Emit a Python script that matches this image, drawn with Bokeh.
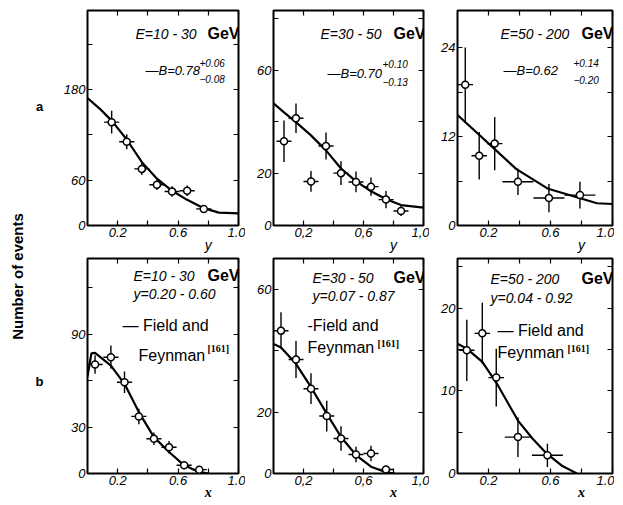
from math import pi
import numpy as np
from bokeh.plotting import figure
from bokeh.models import Range1d, FixedTicker, LinearAxis
from bokeh.layouts import row, column
from bokeh.embed import file_html
from bokeh.resources import INLINE
from bokeh.core.properties import value

# ---------------- data ----------------
# row a: y distributions
a1_y = [0.16, 0.26, 0.36, 0.46, 0.56, 0.66, 0.77]
a1_n = [137, 111, 75, 54, 45, 46, 22]
a1_err = [15, 10, 8, 7, 7, 7, 5]
a1_dx = [0.05, 0.05, 0.05, 0.05, 0.05, 0.05, 0.05]
a1_fit_y = [0.0, 0.08, 0.16, 0.26, 0.36, 0.46, 0.56, 0.66, 0.77, 0.87, 1.0]
a1_fit_n = [169, 155, 139, 114, 84, 62, 46, 34, 23, 17, 16]

a2_y = [0.07, 0.15, 0.25, 0.35, 0.45, 0.55, 0.65, 0.75, 0.85]
a2_n = [32.5, 41.4, 17.0, 30.7, 20.2, 16.8, 15.0, 10.0, 5.6]
a2_err = [8.0, 5.7, 4.0, 5.2, 4.6, 4.0, 3.5, 3.3, 1.9]
a2_dx = [0.05, 0.05, 0.05, 0.05, 0.05, 0.05, 0.05, 0.05, 0.05]
a2_fit_y = [0.0, 0.07, 0.155, 0.25, 0.35, 0.45, 0.545, 0.65, 0.755, 0.85, 1.0]
a2_fit_n = [47.2, 43.7, 39.6, 34.8, 29.0, 22.0, 17.3, 13.2, 10.0, 7.9, 6.9]

a3_y = [0.05, 0.14, 0.24, 0.39, 0.59, 0.79]
a3_n = [19.0, 9.4, 11.05, 5.9, 3.7, 4.1]
a3_err = [5.0, 3.2, 3.6, 1.8, 1.9, 1.8]
a3_dx = [0.05, 0.05, 0.05, 0.1, 0.1, 0.1]
a3_fit_y = [0.0, 0.136, 0.24, 0.38, 0.58, 0.786, 0.9, 1.0]
a3_fit_n = [14.9, 12.3, 10.3, 7.6, 5.0, 3.7, 3.0, 2.9]

# row b: x distributions
b1_x = [0.05, 0.155, 0.245, 0.34, 0.44, 0.54, 0.64, 0.74]
b1_n = [70.5, 75.2, 59.0, 36.9, 22.5, 17.0, 5.3, 2.5]
b1_err = [6.0, 7.5, 7.0, 5.0, 4.0, 4.0, 2.0, 1.0]
b1_dx = [0.05, 0.05, 0.05, 0.05, 0.05, 0.05, 0.05, 0.05]
b1_fit_x = [0.0, 0.026, 0.05, 0.155, 0.245, 0.34, 0.44, 0.54, 0.64, 0.74, 0.8]
b1_fit_n = [62.7, 77.7, 78.0, 69.8, 58.0, 39.7, 23.5, 13.9, 5.3, 1.0, 0.0]

b2_x = [0.05, 0.15, 0.25, 0.355, 0.45, 0.55, 0.65, 0.75]
b2_n = [46.5, 37.1, 27.6, 18.7, 11.4, 6.2, 6.5, 1.3]
b2_err = [6.0, 6.0, 5.0, 5.0, 4.0, 2.5, 2.5, 0.6]
b2_dx = [0.05, 0.05, 0.05, 0.05, 0.05, 0.05, 0.05, 0.05]
b2_fit_x = [0.0, 0.05, 0.15, 0.25, 0.355, 0.45, 0.55, 0.65, 0.75, 0.81]
b2_fit_n = [42.2, 41.0, 35.7, 28.1, 19.5, 11.9, 6.0, 2.2, 0.4, 0.0]

b3_x = [0.06, 0.16, 0.25, 0.39, 0.58]
b3_n = [14.9, 16.95, 11.6, 4.4, 2.2]
b3_err = [3.7, 3.7, 3.5, 2.4, 1.4]
b3_dx = [0.05, 0.05, 0.05, 0.085, 0.1]
b3_fit_x = [0.0, 0.06, 0.16, 0.25, 0.39, 0.485, 0.576, 0.677, 0.77]
b3_fit_n = [15.7, 15.1, 13.5, 11.0, 6.4, 4.2, 2.4, 0.9, 0.0]

# axis ticks and labels
x_ticks = [0.2, 0.4, 0.6, 0.8, 1.0]
x_labels_dot = {0.2: "0.2", 0.4: "", 0.6: "0.6", 0.8: "", 1.0: "1.0"}
x_labels_comma = {0.2: "0,2", 0.4: "", 0.6: "0,6", 0.8: "", 1.0: "1,0"}
var_tick = [0.8]
a1_yticks = [0, 60, 120, 180, 240]
a1_ylabels = {0: "0", 60: "60", 120: "", 180: "180", 240: ""}
a2_yticks = [0, 20, 40, 60, 80]
a2_ylabels = {0: "0", 20: "20", 40: "", 60: "60", 80: ""}
a3_yticks = [0, 6, 12, 18, 24]
a3_ylabels = {0: "0", 6: "", 12: "12", 18: "", 24: "24"}
b1_yticks = [0, 30, 60, 90, 120]
b1_ylabels = {0: "0", 30: "30", 60: "", 90: "90", 120: ""}
b2_yticks = [0, 20, 40, 60]
b2_ylabels = {0: "0", 20: "20", 40: "", 60: "60"}
b3_yticks = [0, 5, 10, 15, 20, 25]
b3_ylabels = {0: "0", 5: "", 10: "10", 15: "", 20: "20", 25: ""}

# ---------------- layout constants ----------------
PAGE = 0
LEFT_W = 57
BL = [30, 28, 28]
FW = [151, 150, 155]
BR = [7, 6, 2]
ROW_BT = [10, 3]
FH = [215, 215]
ROW_BB = [30, 32]

SANS = "Liberation Sans"
SERIF = "Liberation Serif"

STYLES = {
    "E": dict(text_font=value(SANS), text_font_style="italic", text_font_size="14px", text_align="left"),
    "gev": dict(text_font=value(SANS), text_font_style="bold", text_font_size="16px", text_align="right"),
    "B": dict(text_font=value(SANS), text_font_style="italic", text_font_size="13px", text_align="left"),
    "sup": dict(text_font=value(SANS), text_font_style="italic", text_font_size="10px", text_align="left"),
    "ff": dict(text_font=value(SANS), text_font_style="normal", text_font_size="16px", text_align="left"),
    "ref": dict(text_font=value(SERIF), text_font_style="bold", text_font_size="10px", text_align="left"),
}


def frame_box(r, c):
    left = PAGE + LEFT_W + sum(BL[i] + FW[i] + BR[i] for i in range(c)) + BL[c]
    top = PAGE + sum(ROW_BT[i] + FH[i] + ROW_BB[i] for i in range(r)) + ROW_BT[r]
    return left, top


def axis(ticks, labels, show, font=SANS, style="italic", size="13px", standoff=2):
    return LinearAxis(ticker=FixedTicker(ticks=ticks),
                      major_label_overrides=labels if show else {t: "" for t in ticks},
                      major_tick_in=5, major_tick_out=0,
                      minor_tick_in=0, minor_tick_out=0,
                      axis_line_color=None, major_tick_line_color="black",
                      major_tick_line_width=1.2,
                      major_label_text_font=font,
                      major_label_text_font_style=style,
                      major_label_text_font_size=size if show else "0px",
                      major_label_text_color="black",
                      major_label_standoff=standoff if show else 0)


def make_panel(r, c, xs, ns, errs, dxs, fx, fn, ymax, yticks, ylabels, xlabels, letter, texts):
    w = BL[c] + FW[c] + BR[c]
    h = ROW_BT[r] + FH[r] + ROW_BB[r]
    p = figure(width=w, height=h, x_range=Range1d(0, 1), y_range=Range1d(0, ymax),
               toolbar_location=None, output_backend="svg",
               x_axis_location=None, y_axis_location=None,
               min_border_left=BL[c], min_border_right=BR[c],
               min_border_top=ROW_BT[r], min_border_bottom=ROW_BB[r])
    p.grid.visible = False
    p.xgrid.visible = False
    p.ygrid.visible = False
    p.outline_line_color = "black"
    p.outline_line_width = 2
    p.background_fill_color = "white"
    p.border_fill_color = "white"

    p.add_layout(axis(x_ticks, xlabels, True), "below")
    # variable letter (y or x) under the axis, near 0.8
    lt = axis(var_tick, {0.8: letter}, True,
              font=SERIF if letter == "x" else SANS,
              style="bold italic" if letter == "x" else "italic",
              size="14px", standoff=-3)
    lt.major_tick_line_color = None
    p.add_layout(lt, "below")
    p.add_layout(axis(x_ticks, xlabels, False), "above")
    p.add_layout(axis(yticks, ylabels, True), "left")
    p.add_layout(axis(yticks, ylabels, False), "right")

    x = np.array(xs); n = np.array(ns); e = np.array(errs); d = np.array(dxs)
    p.segment(x0=x, y0=n - e, x1=x, y1=n + e, line_color="black", line_width=1.4)
    p.segment(x0=x - d, y0=n, x1=x + d, y1=n, line_color="black", line_width=1.4)
    p.line(fx, fn, line_color="black", line_width=2.2)
    p.scatter(x, n, marker="circle", size=7, fill_color="white",
              line_color="black", line_width=1.5)

    left, top = frame_box(r, c)
    ppx = FW[c] / 1.0
    ppy = FH[r] / ymax

    for txt, px, py, kind in texts:
        dx_ = (px - left) / ppx
        dy_ = ymax - (py - top) / ppy
        p.text(x=[dx_], y=[dy_], text=[txt], text_color="black",
               text_baseline="middle", **STYLES[kind])
    return p


a1 = make_panel(0, 0, a1_y, a1_n, a1_err, a1_dx, a1_fit_y, a1_fit_n, 285, a1_yticks, a1_ylabels,
                x_labels_dot, "y",
                [("E=10 - 30", 135, 33, "E"), ("GeV", 239, 33, "gev"),
                 ("\u2014B=0.78", 145, 70, "B"), ("+0.06", 199, 62, "sup"), ("\u22120.08", 199, 78, "sup")])
a2 = make_panel(0, 1, a2_y, a2_n, a2_err, a2_dx, a2_fit_y, a2_fit_n, 83, a2_yticks, a2_ylabels,
                x_labels_comma, "y",
                [("E=30 - 50", 320, 33, "E"), ("GeV", 425, 33, "gev"),
                 ("\u2014B=0.70", 327, 73, "B"), ("+0.10", 382, 63, "sup"), ("\u22120.13", 382, 81, "sup")])
a3 = make_panel(0, 2, a3_y, a3_n, a3_err, a3_dx, a3_fit_y, a3_fit_n, 29, a3_yticks, a3_ylabels,
                x_labels_dot, "y",
                [("E=50 - 200", 500, 33, "E"), ("GeV", 613, 33, "gev"),
                 ("\u2014B=0.62", 503, 70, "B"), ("+0.14", 573, 62, "sup"), ("\u22120.20", 573, 79, "sup")])
b1 = make_panel(1, 0, b1_x, b1_n, b1_err, b1_dx, b1_fit_x, b1_fit_n, 139, b1_yticks, b1_ylabels,
                x_labels_dot, "x",
                [("E=10 - 30", 133, 275, "E"), ("GeV", 239, 275, "gev"),
                 ("y=0.20 - 0.60", 133, 293, "E"), ("\u2014 Field and", 122, 325, "ff"),
                 ("Feynman", 138, 355, "ff"), ("[161]", 207, 348, "ref")])
b2 = make_panel(1, 1, b2_x, b2_n, b2_err, b2_dx, b2_fit_x, b2_fit_n, 70, b2_yticks, b2_ylabels,
                x_labels_comma, "x",
                [("E=30 - 50", 312, 277, "E"), ("GeV", 425, 277, "gev"),
                 ("y=0.07 - 0.87", 312, 295, "E"), ("-Field and", 307, 325, "ff"),
                 ("Feynman", 307, 347, "ff"), ("[161]", 377, 343, "ref")])
b3 = make_panel(1, 2, b3_x, b3_n, b3_err, b3_dx, b3_fit_x, b3_fit_n, 26, b3_yticks, b3_ylabels,
                x_labels_dot, "x",
                [("E=50 - 200", 490, 278, "E"), ("GeV", 613, 278, "gev"),
                 ("y=0.04 - 0.92", 490, 297, "E"), ("\u2014 Field and", 497, 330, "ff"),
                 ("Feynman", 497, 352, "ff"), ("[161]", 567, 348, "ref")])

# left strip with the shared label and row letters
total_h = sum(ROW_BT[i] + FH[i] + ROW_BB[i] for i in range(2))
p0 = figure(width=LEFT_W, height=total_h, x_range=Range1d(0, LEFT_W), y_range=Range1d(0, total_h),
            toolbar_location=None, output_backend="svg", min_border=0,
            x_axis_location=None, y_axis_location=None)
p0.outline_line_color = None
p0.grid.visible = False
p0.xgrid.visible = False
p0.ygrid.visible = False
p0.text(x=[17 - PAGE], y=[total_h - (276 - PAGE)], text=["Number of events"], angle=pi / 2,
        text_align="center", text_baseline="middle", text_font=value(SANS),
        text_font_style="bold", text_font_size="15px", text_color="black")
p0.text(x=[39 - PAGE, 39 - PAGE], y=[total_h - (106 - PAGE), total_h - (381 - PAGE)], text=["a", "b"],
        text_align="center", text_baseline="middle", text_font=value(SANS),
        text_font_style="bold", text_font_size="13px", text_color="black")

layout = row(p0, column(row(a1, a2, a3), row(b1, b2, b3)))
open("out.html", "w").write(file_html(layout, INLINE))
